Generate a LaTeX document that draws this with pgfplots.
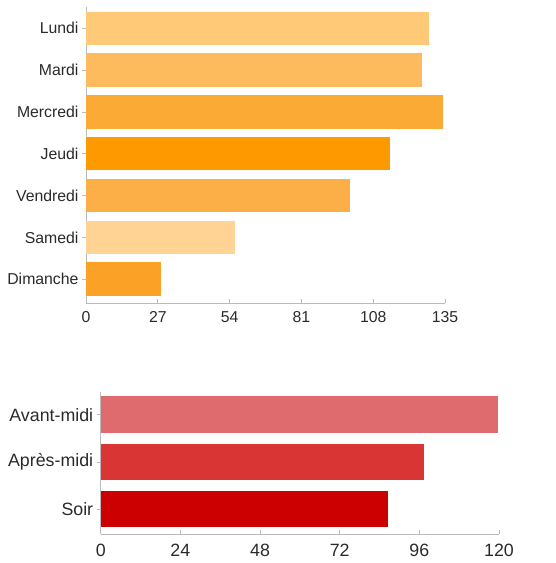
\documentclass[border=0pt]{standalone}
\usepackage{pgfplots}
\pgfplotsset{compat=1.18}
\usepackage{fontspec}
\setmainfont{Liberation Sans}
\definecolor{txt}{HTML}{2A2A2A}
\definecolor{axl}{HTML}{BBBBBB}
\definecolor{cLun}{HTML}{FFC977}
\definecolor{cMar}{HTML}{FDBB5E}
\definecolor{cMer}{HTML}{FBAA36}
\definecolor{cJeu}{HTML}{FF9900}
\definecolor{cVen}{HTML}{FCAF46}
\definecolor{cSam}{HTML}{FFD394}
\definecolor{cDim}{HTML}{FBA226}
\definecolor{cAva}{HTML}{E06B6E}
\definecolor{cApr}{HTML}{D93535}
\definecolor{cSoi}{HTML}{CC0000}
\pgfplotsset{
  common/.style={
    scale only axis,
    xbar, bar shift=0pt,
    axis x line*=bottom, axis y line*=left,
    axis line style={axl, line width=0.9pt},
    tick style={axl, line width=0.8pt},
    major tick length=4pt,
    xtick align=inside, ytick align=outside,
    y dir=reverse,
    xmin=0,
    /pgf/number format/assume math mode=true,
    tick label style={text=txt},
    every axis plot/.append style={draw=none},
  }
}
\begin{document}
\begin{tikzpicture}
\path[use as bounding box] (0,0) rectangle (555pt,563pt);
\begin{axis}[common,
  at={(86pt,260pt)}, anchor=south west,
  width=359pt, height=296pt,
  xmax=135, xtick={0,27,54,81,108,135},
  ymin=-0.51, ymax=6.57,
  ytick={0,...,6},
  yticklabels={Lundi,Mardi,Mercredi,Jeudi,Vendredi,Samedi,Dimanche},
  bar width=0.8,
  tick label style={font=\fontsize{15.8}{18}\selectfont},
  xticklabel style={yshift=-5pt},
]
\addplot[fill=cLun] coordinates {(129.1,0)};
\addplot[fill=cMar] coordinates {(126.2,1)};
\addplot[fill=cMer] coordinates {(134.1,2)};
\addplot[fill=cJeu] coordinates {(114.3,3)};
\addplot[fill=cVen] coordinates {(99.2,4)};
\addplot[fill=cSam] coordinates {(56.2,5)};
\addplot[fill=cDim] coordinates {(28.3,6)};
\end{axis}
\begin{axis}[common,
  at={(100.7pt,29pt)}, anchor=south west,
  width=398.3pt, height=142.3pt,
  xmax=120, xtick={0,24,48,72,96,120},
  ymin=-0.49, ymax=2.53,
  ytick={0,1,2},
  yticklabels={Avant-midi,Après-midi,Soir},
  bar width=0.78,
  tick label style={font=\fontsize{17.8}{20}\selectfont},
  xticklabel style={yshift=-7pt},
]
\addplot[fill=cAva] coordinates {(119.6,0)};
\addplot[fill=cApr] coordinates {(97.5,1)};
\addplot[fill=cSoi] coordinates {(86.7,2)};
\end{axis}
\end{tikzpicture}
\end{document}
